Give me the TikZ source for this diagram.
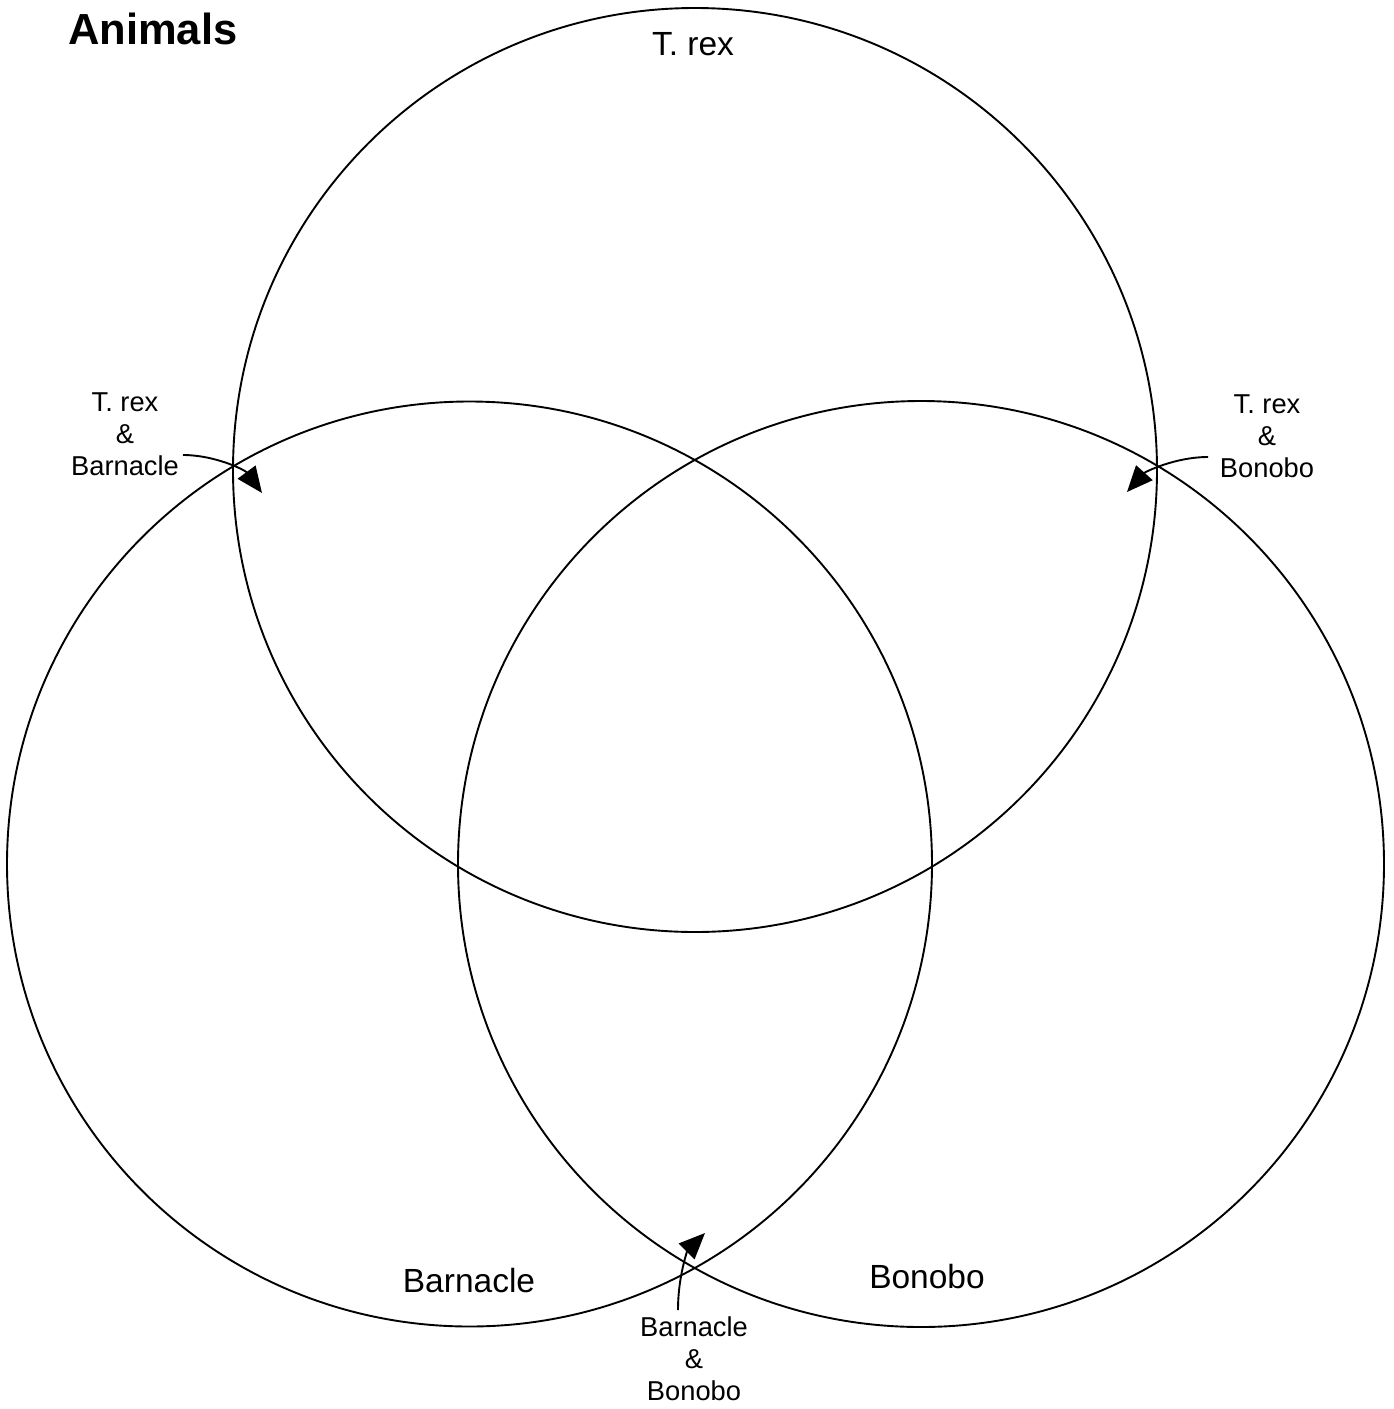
\documentclass[tikz,border=0pt]{standalone}
\usepackage{fontspec}
\setmainfont{Liberation Sans}
\usetikzlibrary{arrows.meta}
\begin{document}
\begin{tikzpicture}[x=1pt,y=-1pt,
  setcircle/.style={circle, draw, line width=1.9pt, inner sep=0pt, minimum size=#1},
  biglabel/.style={inner sep=0pt, anchor=base, font=\fontsize{33.5}{40}\selectfont},
  pairlabel/.style={inner sep=0pt, anchor=north, align=center, font=\fontsize{27.3}{32}\selectfont},
  pointer/.style={line width=1.9pt, -{Triangle[length=26pt, width=22pt]}}]
  \useasboundingbox (0,0) rectangle (1394,1409);

  % the three sets
  \node[setcircle=924pt] (trex) at (695,470) {};
  \node[setcircle=925pt] (barnacle) at (469.5,864) {};
  \node[setcircle=926pt] (bonobo) at (921,864) {};

  % title and set names
  \node[anchor=base west, inner sep=0pt, font=\bfseries\fontsize{43.5}{52}\selectfont] (title) at (68,44) {Animals};
  \node[biglabel] (trexname) at (693,55) {T. rex};
  \node[biglabel] (barnaclename) at (469,1292) {Barnacle};
  \node[biglabel] (bononame) at (927,1288) {Bonobo};

  % labels of the pairwise overlaps
  \node[pairlabel] (tb) at (125,393) {T. rex\\\&\\Barnacle};
  \node[pairlabel] (tbo) at (1267,395) {T. rex\\\&\\Bonobo};
  \node[pairlabel] (bb) at (694,1316) {Barnacle\\\&\\Bonobo};

  % pointers into the overlaps
  \coordinate (tbstart) at (183,455);
  \coordinate (tbtip) at (262,493);
  \coordinate (tbostart) at (1208,457);
  \coordinate (tbotip) at (1127,492);
  \coordinate (bbstart) at (678,1310);
  \coordinate (bbtip) at (705,1233);
  \draw[pointer] (tbstart) .. controls (215,455) and (245,470) .. (tbtip);
  \draw[pointer] (tbostart) .. controls (1175,457) and (1145,472) .. (tbotip);
  \draw[pointer] (bbstart) .. controls (678,1275) and (688,1250) .. (bbtip);
\end{tikzpicture}
\end{document}
